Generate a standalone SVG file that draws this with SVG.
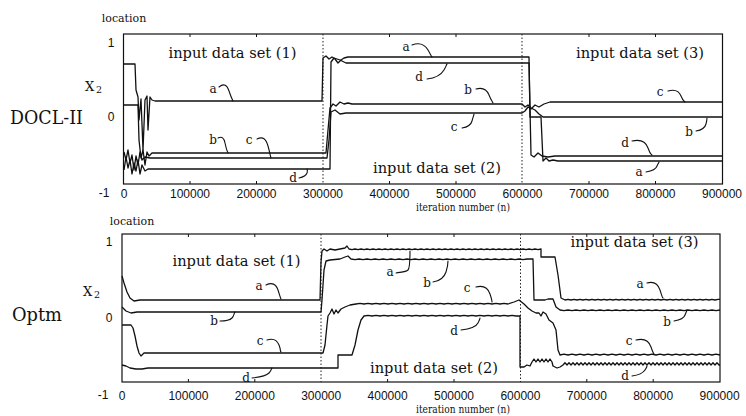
<svg xmlns="http://www.w3.org/2000/svg" width="746" height="416" viewBox="0 0 746 416">
<style>
.frame{fill:none;stroke:#111;stroke-width:1.2}
.tk{stroke:#111;stroke-width:1}
.div{stroke:#222;stroke-width:1;stroke-dasharray:1.5 2}
.curve{fill:none;stroke:#111;stroke-width:1.3;stroke-linejoin:round}
.lead{fill:none;stroke:#111;stroke-width:1.1;stroke-linecap:round}
.num{font-family:"Liberation Sans",Arial,sans-serif;font-size:12px;fill:#111;text-anchor:middle}
.serif{font-family:"DejaVu Serif","Liberation Serif",serif;fill:#111}
.lbl{font-size:12px;text-anchor:middle}
.set{font-size:14.5px;text-anchor:middle}
.ttl{font-size:18px}
.small{font-size:11px}
</style>
<rect width="746" height="416" fill="#fff"/>

<!-- ===================== TOP PLOT : DOCL-II ===================== -->
<g id="plot-docl">
  <g id="docl-axes">
    <rect class="frame" x="123.5" y="34" width="599" height="150"/>
    <path class="tk" d="M190,34v3M256.5,34v3M389.5,34v3M456,34v3M589,34v3M655.5,34v3M190,184v-3M256.5,184v-3M389.5,184v-3M456,184v-3M589,184v-3M655.5,184v-3"/>
    <line class="div" x1="323" y1="34" x2="323" y2="184"/>
    <line class="div" x1="522" y1="34" x2="522" y2="184"/>
    <text class="num" x="111" y="47">1</text>
    <text class="num" x="111" y="121">0</text>
    <text class="num" x="104" y="197">-1</text>
    <text class="num" x="124" y="198">0</text>
    <text class="num" x="190" y="198">100000</text>
    <text class="num" x="256.5" y="198">200000</text>
    <text class="num" x="323" y="198">300000</text>
    <text class="num" x="389.5" y="198">400000</text>
    <text class="num" x="456" y="198">500000</text>
    <text class="num" x="522.5" y="198">600000</text>
    <text class="num" x="589" y="198">700000</text>
    <text class="num" x="655.5" y="198">800000</text>
    <text class="num" x="722" y="198">900000</text>
    <text class="serif small" x="124" y="22" text-anchor="middle">location</text>
    <text class="serif" x="85" y="91" font-size="13">X</text>
    <text class="serif" x="96" y="93" font-size="9.5">2</text>
    <text class="serif ttl" x="10" y="124" textLength="73" lengthAdjust="spacingAndGlyphs">DOCL-II</text>
    <text class="serif" x="463" y="211" font-size="11" text-anchor="middle" textLength="94" lengthAdjust="spacingAndGlyphs">iteration number (n)</text>
    <text class="serif set" x="232.5" y="58" textLength="128" lengthAdjust="spacingAndGlyphs">input data set (1)</text>
    <text class="serif set" x="437" y="173" textLength="128" lengthAdjust="spacingAndGlyphs">input data set (2)</text>
    <text class="serif set" x="640" y="58" textLength="128" lengthAdjust="spacingAndGlyphs">input data set (3)</text>
  </g>
  <g id="docl-curves">
    <path id="docl-a" class="curve" d="M124,64 H135 L136,90 L138,97 L139,120 L141,99 L143,150 L145,100 L147,96 L148,130 L150,97 L152,100 L155,101 H322 L323,58 L326,56 L329,59 L332,57 L335,59 L338,63 L341,60 L344,58 L348,57 H529 L530,117 H541 L543,161 L546,158 L549,161 L553,160 L558,161 H722"/>
    <path id="docl-d" class="curve" d="M124,170 L126,157 L128,168 L130,160 L132,174 L134,163 L136,171 L138,160 L140,174 L142,165 L145,171 L148,169 H330 L331,62 L334,58 L340,60 L346,63 H529 L531,155 L534,157 L538,153 L542,156 L548,157 L555,156 H722"/>
    <path id="docl-b" class="curve" d="M124,105 H138 L139,140 L141,158 L143,150 L145,165 L147,152 L149,156 L152,153 H326 L328,130 L330,108 L333,104 L336,106 L340,102 L344,104 L348,103 L352,104 H522 L525,107 L528,105 L531,108 L535,110 L539,114 L543,117 H722"/>
    <path id="docl-c" class="curve" d="M124,152 L126,160 L128,150 L130,163 L132,155 L134,170 L136,156 L138,165 L140,152 L142,160 L145,157 L150,158 H327 L329,140 L331,112 L335,110 L340,114 L346,113 H522 L525,111 L528,107 L531,109 L535,105 L539,107 L544,104 L550,102 H722"/>
  </g>
  <g id="docl-labels">
    <text class="serif lbl" x="213" y="93">a</text>
    <path class="lead" d="M219,87 C224,83 227,85 229,91 S232,99 233,101"/>
    <text class="serif lbl" x="213" y="144">b</text>
    <path class="lead" d="M218,138 C222,136 224,138 225,143 S227,151 228,153"/>
    <text class="serif lbl" x="249" y="144">c</text>
    <path class="lead" d="M257,139 C263,136 266,139 268,146 S270,155 271,158"/>
    <text class="serif lbl" x="293" y="182">d</text>
    <path class="lead" d="M299,178 C304,177 306,176 307,173 S307,170 307,169"/>
    <text class="serif lbl" x="406" y="51">a</text>
    <path class="lead" d="M412,45 C420,42 425,45 428,50 S431,56 432,57"/>
    <text class="serif lbl" x="419" y="81">d</text>
    <path class="lead" d="M427,79 C436,78 441,75 444,70 S446,65 447,64"/>
    <text class="serif lbl" x="468" y="94">b</text>
    <path class="lead" d="M476,89 C483,87 487,90 489,95 S492,101 493,103"/>
    <text class="serif lbl" x="454" y="131">c</text>
    <path class="lead" d="M462,128 C468,127 471,125 472,121 S474,115 474,114"/>
    <text class="serif lbl" x="660" y="96">c</text>
    <path class="lead" d="M668,91 C675,89 679,91 681,96 S684,101 685,102"/>
    <text class="serif lbl" x="689" y="136">b</text>
    <path class="lead" d="M696,131 C702,130 705,128 706,124 S707,119 707,118"/>
    <text class="serif lbl" x="625" y="147">d</text>
    <path class="lead" d="M632,141 C641,139 646,142 648,148 S651,154 652,155"/>
    <text class="serif lbl" x="639" y="176">a</text>
    <path class="lead" d="M646,172 C652,171 656,169 657,166 S659,163 659,162"/>
  </g>
</g>

<!-- ===================== BOTTOM PLOT : Optm ===================== -->
<g id="plot-optm">
  <g id="optm-axes">
    <rect class="frame" x="122" y="234" width="598" height="148"/>
    <path class="tk" d="M188.4,234v3M254.8,234v3M387.6,234v3M454,234v3M586.8,234v3M653.2,234v3M188.4,382v-3M254.8,382v-3M387.6,382v-3M454,382v-3M586.8,382v-3M653.2,382v-3"/>
    <line class="div" x1="321" y1="234" x2="321" y2="382"/>
    <line class="div" x1="520.5" y1="234" x2="520.5" y2="382"/>
    <text class="num" x="109" y="246">1</text>
    <text class="num" x="109" y="322">0</text>
    <text class="num" x="103" y="399">-1</text>
    <text class="num" x="122" y="400">0</text>
    <text class="num" x="188.4" y="400">100000</text>
    <text class="num" x="254.8" y="400">200000</text>
    <text class="num" x="321.2" y="400">300000</text>
    <text class="num" x="387.6" y="400">400000</text>
    <text class="num" x="454" y="400">500000</text>
    <text class="num" x="520.4" y="400">600000</text>
    <text class="num" x="586.8" y="400">700000</text>
    <text class="num" x="653.2" y="400">800000</text>
    <text class="num" x="719.6" y="400">900000</text>
    <text class="serif small" x="132" y="225" text-anchor="middle">location</text>
    <text class="serif" x="83" y="296" font-size="13">X</text>
    <text class="serif" x="94" y="298" font-size="9.5">2</text>
    <text class="serif ttl" x="12" y="321" textLength="50" lengthAdjust="spacingAndGlyphs">Optm</text>
    <text class="serif" x="463" y="413" font-size="11" text-anchor="middle" textLength="94" lengthAdjust="spacingAndGlyphs">iteration number (n)</text>
    <text class="serif set" x="236.5" y="266" textLength="128" lengthAdjust="spacingAndGlyphs">input data set (1)</text>
    <text class="serif set" x="434" y="373" textLength="128" lengthAdjust="spacingAndGlyphs">input data set (2)</text>
    <text class="serif set" x="634.5" y="247" textLength="128" lengthAdjust="spacingAndGlyphs">input data set (3)</text>
  </g>
  <g id="optm-curves">
    <path id="optm-a" class="curve" d="M122,276 L124,283 L127,292 L130,298 L134,301 L140,300 H320 L321,262 L322,251 L324,249 L327,251 L330,249 L335,250 L340,249 L345,248 L347,246 L349,249 l3,0.6 l3,-0.6 l3,0.6 l3,-0.6 l3,0.6 l3,-0.6 l3,0.6 l3,-0.6 l3,0.6 l3,-0.6 l3,0.6 l3,-0.6 l3,0.6 l3,-0.6 l3,0.6 l3,-0.6 l3,0.6 l3,-0.6 l3,0.6 l3,-0.6 l3,0.6 l3,-0.6 l3,0.6 l3,-0.6 l3,0.6 l3,-0.6 l3,0.6 l3,-0.6 l3,0.6 l3,-0.6 l3,0.6 l3,-0.6 l3,0.6 l3,-0.6 l3,0.6 l3,-0.6 l3,0.6 l3,-0.6 l3,0.6 l3,-0.6 l3,0.6 l3,-0.6 l3,0.6 l3,-0.6 l3,0.6 l3,-0.6 l3,0.6 l3,-0.6 l3,0.6 l3,-0.6 l3,0.6 l3,-0.6 l3,0.6 l3,-0.6 l3,0.6 l3,-0.6 l3,0.6 l3,-0.6 l3,0.6 l3,-0.6 l3,0.6 l3,-0.6 l3,0.6 l3,-0.6 V257 H555 L558,275 L561,298 L565,300 l3,-0.6 l3,0.6 l3,-0.6 l3,0.6 l3,-0.6 l3,0.6 l3,-0.6 l3,0.6 l3,-0.6 l3,0.6 l3,-0.6 l3,0.6 l3,-0.6 l3,0.6 l3,-0.6 l3,0.6 l3,-0.6 l3,0.6 l3,-0.6 l3,0.6 l3,-0.6 l3,0.6 l3,-0.6 l3,0.6 l3,-0.6 l3,0.6 l3,-0.6 l3,0.6 l3,-0.6 l3,0.6 l3,-0.6 l3,0.6 l3,-0.6 l3,0.6 l3,-0.6 l3,0.6 l3,-0.6 l3,0.6 l3,-0.6 l3,0.6 l3,-0.6 l3,0.6 l3,-0.6 l3,0.6 l3,-0.6 l3,0.6 l3,-0.6 l3,0.6 l3,-0.6 l3,0.6 l3,-0.6 H720"/>
    <path id="optm-b" class="curve" d="M122,307 L126,311 L131,313 L137,312 H321 L322,300 L324,270 L326,261 L330,260 L340,259 L345,257 L348,256 L351,259 l4,0.6 l4,-0.6 l4,0.6 l4,-0.6 l4,0.6 l4,-0.6 l4,0.6 l4,-0.6 l4,0.6 l4,-0.6 l4,0.6 l4,-0.6 l4,0.6 l4,-0.6 l4,0.6 l4,-0.6 l4,0.6 l4,-0.6 l4,0.6 l4,-0.6 l4,0.6 l4,-0.6 l4,0.6 l4,-0.6 l4,0.6 l4,-0.6 l4,0.6 l4,-0.6 l4,0.6 l4,-0.6 l4,0.6 l4,-0.6 l4,0.6 l4,-0.6 l4,0.6 l4,-0.6 l4,0.6 l4,-0.6 l4,0.6 l4,-0.6 l4,0.6 l4,-0.6 l4,0.6 l4,-0.6 H533 L534,300 H545 L548,299 H553 L556,307 L560,310 l4,0.6 l4,-0.6 l4,0.6 l4,-0.6 l4,0.6 l4,-0.6 l4,0.6 l4,-0.6 l4,0.6 l4,-0.6 l4,0.6 l4,-0.6 l4,0.6 l4,-0.6 l4,0.6 l4,-0.6 l4,0.6 l4,-0.6 l4,0.6 l4,-0.6 l4,0.6 l4,-0.6 l4,0.6 l4,-0.6 l4,0.6 l4,-0.6 l4,0.6 l4,-0.6 l4,0.6 l4,-0.6 l4,0.6 l4,-0.6 l4,0.6 l4,-0.6 l4,0.6 l4,-0.6 l4,0.6 l4,-0.6 l4,0.6 l4,-0.6"/>
    <path id="optm-c" class="curve" d="M122,325 H131 L133,328 L135,336 L137,346 L139,353 L141,356 L144,353 H323 L325,345 L327,325 L328,316 L330,313 L332,309 L334,314 L336,310 L338,313 L341,309 L345,307 L350,305 L356,304 l4,-0.6 l4,0.6 l4,-0.6 l4,0.6 l4,-0.6 l4,0.6 l4,-0.6 l4,0.6 l4,-0.6 l4,0.6 l4,-0.6 l4,0.6 l4,-0.6 l4,0.6 l4,-0.6 l4,0.6 l4,-0.6 l4,0.6 l4,-0.6 l4,0.6 l4,-0.6 l4,0.6 l4,-0.6 l4,0.6 l4,-0.6 l4,0.6 l4,-0.6 l4,0.6 l4,-0.6 l4,0.6 l4,-0.6 l4,0.6 l4,-0.6 l4,0.6 l4,-0.6 l4,0.6 l4,-0.6 l4,0.6 L514,302 L519,300 L524,304 L528,308 L532,311 L536,313 L539,313 L541,316 L543,312 L546,314 L549,320 L553,323 L556,330 L558,350 L560,355 l4,-0.8 l4,0.8 l4,-0.8 l4,0.8 l4,-0.8 l4,0.8 l4,-0.8 l4,0.8 l4,-0.8 l4,0.8 l4,-0.8 l4,0.8 l4,-0.8 l4,0.8 l4,-0.8 l4,0.8 l4,-0.8 l4,0.8 l4,-0.8 l4,0.8 l4,-0.8 l4,0.8 l4,-0.8 l4,0.8 l4,-0.8 l4,0.8 l4,-0.8 l4,0.8 l4,-0.8 l4,0.8 l4,-0.8 l4,0.8 l4,-0.8 l4,0.8 l4,-0.8 l4,0.8 l4,-0.8 l4,0.8 l4,-0.8 l4,0.8"/>
    <path id="optm-d" class="curve" d="M122,365 L126,366 L130,368 L136,369 L142,369 L148,368 H338 V355 H352 L355,345 L358,330 L361,320 L364,316 l4,-0.6 l4,0.6 l4,-0.6 l4,0.6 l4,-0.6 l4,0.6 l4,-0.6 l4,0.6 l4,-0.6 l4,0.6 l4,-0.6 l4,0.6 l4,-0.6 l4,0.6 l4,-0.6 l4,0.6 l4,-0.6 l4,0.6 l4,-0.6 l4,0.6 l4,-0.6 l4,0.6 l4,-0.6 l4,0.6 l4,-0.6 l4,0.6 l4,-0.6 l4,0.6 l4,-0.6 l4,0.6 l4,-0.6 l4,0.6 l4,-0.6 l4,0.6 l4,-0.6 l4,0.6 l4,-0.6 l4,0.6 H520 V367 L524,367 L527,365 L530,366 L532,362 l2,-3 l2,3 l2,-3 l2,3 l2,-3 l2,3 l2,-3 l2,3 l2,-3 l2,3 L553,366 L557,368 L560,367 L563,365 l2,-2.2 l2,2.2 l2,-2.2 l2,2.2 l2,-2.2 l2,2.2 l2,-2.2 l2,2.2 l2,-2.2 l2,2.2 l2,-2.2 l2,2.2 l2,-2.2 l2,2.2 l2,-2.2 l2,2.2 l2,-2.2 l2,2.2 l2,-2.2 l2,2.2 l2,-2.2 l2,2.2 l2,-2.2 l2,2.2 l2,-2.2 l2,2.2 l2,-2.2 l2,2.2 l2,-2.2 l2,2.2 l2,-2.2 l2,2.2 l2,-2.2 l2,2.2 l2,-2.2 l2,2.2 l2,-2.2 l2,2.2 l2,-2.2 l2,2.2 l2,-2.2 l2,2.2 l2,-2.2 l2,2.2 l2,-2.2 l2,2.2 l2,-2.2 l2,2.2 l2,-2.2 l2,2.2 l2,-2.2 l2,2.2 l2,-2.2 l2,2.2 l2,-2.2 l2,2.2 l2,-2.2 l2,2.2 l2,-2.2 l2,2.2 l2,-2.2 l2,2.2 l2,-2.2 l2,2.2 l2,-2.2 l2,2.2 l2,-2.2 l2,2.2 l2,-2.2 l2,2.2 l2,-2.2 l2,2.2 l2,-2.2 l2,2.2 l2,-2.2 l2,2.2 l2,-2.2 l2,2.2 H720"/>
  </g>
  <g id="optm-labels">
    <text class="serif lbl" x="259" y="290">a</text>
    <path class="lead" d="M266,285 C272,282 276,284 278,290 S280,297 281,299"/>
    <text class="serif lbl" x="214" y="325">b</text>
    <path class="lead" d="M220,321 C226,321 230,320 232,318 S234,313 235,312"/>
    <text class="serif lbl" x="260" y="345">c</text>
    <path class="lead" d="M267,340 C273,338 277,340 279,345 S280,351 281,352"/>
    <text class="serif lbl" x="246" y="382">d</text>
    <path class="lead" d="M252,378 C261,377 266,376 269,373 S271,369 272,368"/>
    <text class="serif lbl" x="390" y="276">a</text>
    <path class="lead" d="M396,273 C402,272 406,272 408,270 S410,256 410,251"/>
    <text class="serif lbl" x="427" y="287">b</text>
    <path class="lead" d="M433,282 C440,281 444,278 446,272 S448,263 448,261"/>
    <text class="serif lbl" x="467" y="292">c</text>
    <path class="lead" d="M476,287 C484,285 488,288 490,294 S492,301 492,302"/>
    <text class="serif lbl" x="454" y="335">d</text>
    <path class="lead" d="M461,330 C470,329 476,327 478,323 S480,319 480,318"/>
    <text class="serif lbl" x="640" y="288">a</text>
    <path class="lead" d="M647,283 C654,281 658,284 660,290 S662,297 663,298"/>
    <text class="serif lbl" x="667" y="326">b</text>
    <path class="lead" d="M674,321 C680,320 684,318 685,315 S687,311 687,310"/>
    <text class="serif lbl" x="629" y="345">c</text>
    <path class="lead" d="M636,340 C644,338 649,341 651,347 S653,353 654,354"/>
    <text class="serif lbl" x="625" y="380">d</text>
    <path class="lead" d="M632,376 C639,375 643,373 645,370 S647,367 647,366"/>
  </g>
</g>
</svg>
